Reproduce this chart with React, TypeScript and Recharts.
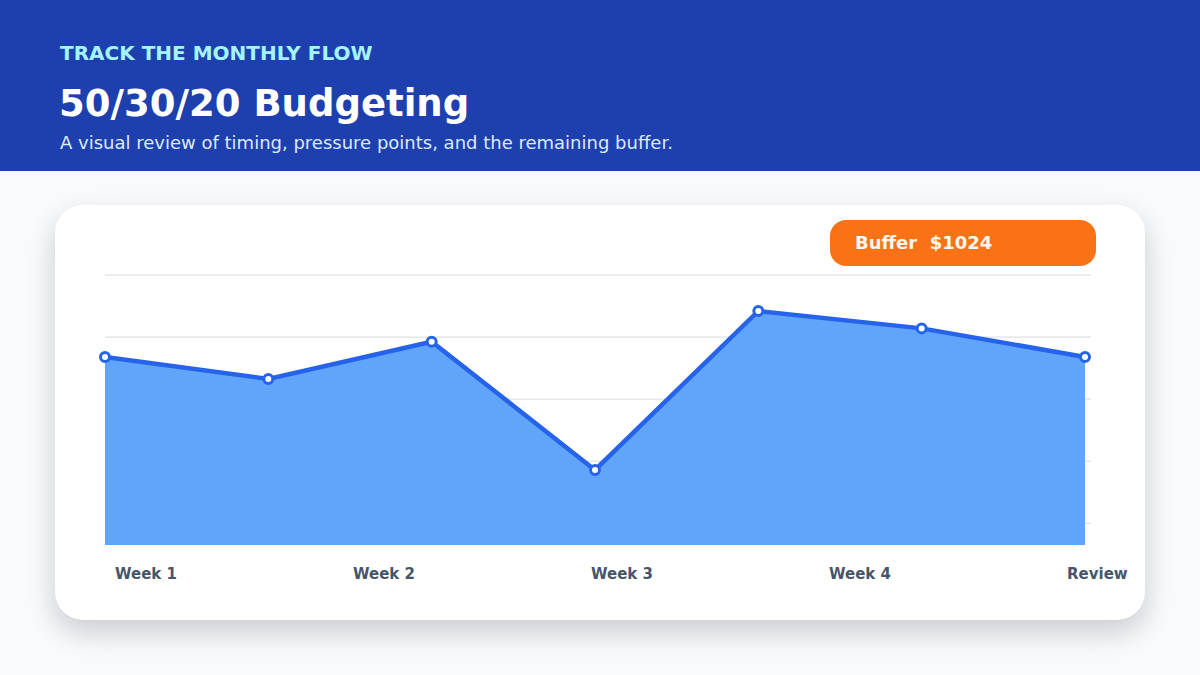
import { AreaChart, Area, XAxis, YAxis, CartesianGrid } from "recharts";

const steps = ["s1", "s2", "s3", "s4", "s5", "s6", "s7"];
const flow = [73.6, 66.5, 78.5, 37.2, 88.4, 82.8, 73.6];
const gridValues = [100, 80, 60, 40, 20];
const weekLabels = ["Week 1", "Week 2", "Week 3", "Week 4", "Review"];
const bufferAmount = 1024;

const data = steps.map((step, i) => ({ step, value: flow[i] }));

const font = "'DejaVu Sans', Verdana, sans-serif";

export default function App() {
  return (
    <div style={{ position: "absolute", left: 0, top: 0, width: 1200, height: 675, background: "#f8fafc", fontFamily: font, overflow: "hidden" }}>
      <div style={{ position: "absolute", left: 0, top: 0, width: 1200, height: 171, background: "#1e40af" }}>
        <div style={{ position: "absolute", left: 60, top: 41, fontSize: 20, fontWeight: 700, color: "#a5f3fc" }}>
          TRACK THE MONTHLY FLOW
        </div>
        <div style={{ position: "absolute", left: 59, top: 82, fontSize: 37, fontWeight: 700, color: "#ffffff" }}>
          50/30/20 Budgeting
        </div>
        <div style={{ position: "absolute", left: 60, top: 132, fontSize: 18, color: "#dbeafe" }}>
          A visual review of timing, pressure points, and the remaining buffer.
        </div>
      </div>

      <div style={{ position: "absolute", left: 55, top: 205, width: 1090, height: 415, background: "#ffffff", borderRadius: 28, boxShadow: "0 12px 28px rgba(15, 23, 42, 0.2)" }}>
        <AreaChart width={1090} height={415} data={data} margin={{ top: 70, right: 54, bottom: 75, left: 50 }}>
          <CartesianGrid vertical={false} stroke="#d6dae0" strokeWidth={1} horizontalValues={gridValues} />
          <XAxis dataKey="step" hide padding={{ left: 0, right: 6 }} />
          <YAxis hide width={0} domain={[13, 100]} ticks={gridValues} />
          <Area
            type="linear"
            dataKey="value"
            stroke="#2563eb"
            strokeWidth={4.5}
            fill="#60a5fa"
            fillOpacity={1}
            dot={{ r: 4.5, fill: "#ffffff", stroke: "#2563eb", strokeWidth: 3 }}
            activeDot={false}
            isAnimationActive={false}
          />
        </AreaChart>

        <div style={{ position: "absolute", left: 775, top: 15, width: 266, height: 46, borderRadius: 16, background: "#f97316", color: "#fff7ed", fontSize: 18, fontWeight: 700, lineHeight: "46px", boxSizing: "border-box", paddingLeft: 25, whiteSpace: "pre" }}>
          {`Buffer  $${bufferAmount}`}
        </div>

        {weekLabels.map((label, i) => (
          <div key={label} style={{ position: "absolute", left: 60 + i * 238, top: 360, fontSize: 15, fontWeight: 700, color: "#475569" }}>
            {label}
          </div>
        ))}
      </div>
    </div>
  );
}
